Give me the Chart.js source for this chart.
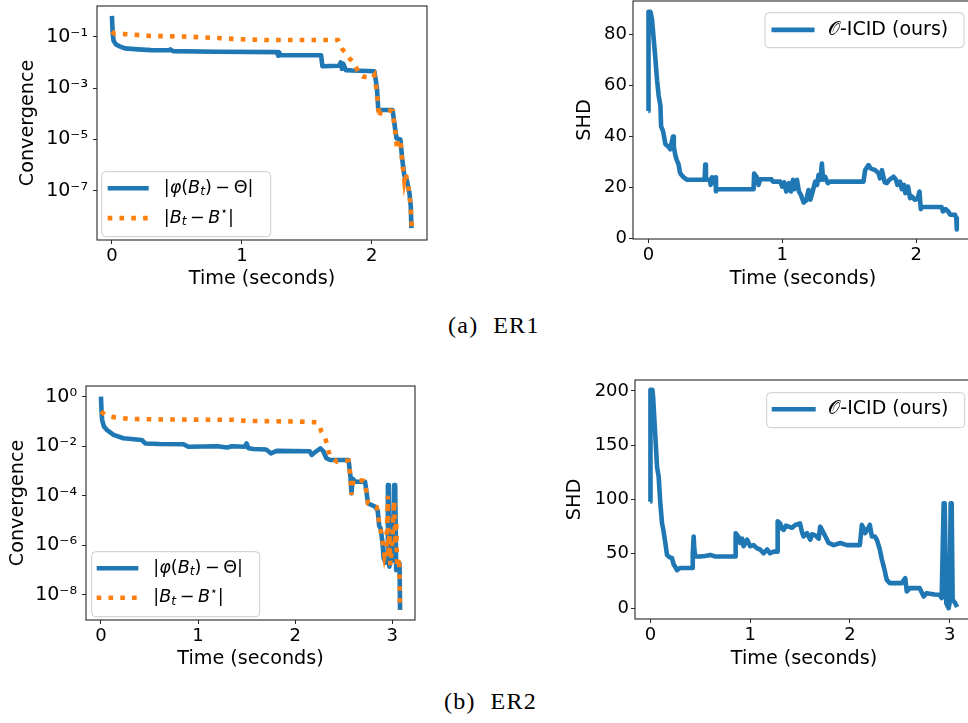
<!DOCTYPE html>
<html><head><meta charset="utf-8">
<script src="https://cdn.jsdelivr.net/npm/chart.js@4.4.1/dist/chart.umd.min.js"></script>
<style>
html,body{margin:0;padding:0;background:#fff;width:968px;height:723px;overflow:hidden;position:relative}
canvas{position:absolute}
.cap{position:absolute;font-family:"Liberation Serif",serif;font-size:24px;line-height:24px;letter-spacing:1.3px;white-space:pre;color:#000}
</style></head><body>
<canvas id="c1"></canvas>
<canvas id="c2"></canvas>
<canvas id="c3"></canvas>
<canvas id="c4"></canvas>
<div class="cap" style="left:448px;top:313px">(a)  ER1</div>
<div class="cap" style="left:444px;top:689px">(b)  ER2</div>
<script>
// ---------- ER1: convergence ----------
const er1PhiTime = [0, 0.005, 0.012, 0.03, 0.06, 0.1, 0.2, 0.3, 0.44, 0.45, 0.47, 0.8, 1.27, 1.28, 1.285, 1.3, 1.61, 1.62, 1.75, 1.76, 1.77, 1.78, 1.8, 1.85, 2.02, 2.04, 2.05, 2.16, 2.18, 2.19, 2.22, 2.235, 2.25, 2.27, 2.29, 2.3, 2.305];
const er1PhiValue = [6.5e-1, 1.6e-1, 7.1e-2, 5e-2, 4.2e-2, 3.5e-2, 3.2e-2, 3e-2, 2.95e-2, 3.2e-2, 2.75e-2, 2.6e-2, 2.5e-2, 1.8e-2, 2.5e-2, 1.9e-2, 1.9e-2, 7.1e-3, 7.4e-3, 1e-2, 5.6e-3, 8.9e-3, 5e-3, 4.8e-3, 4.5e-3, 1e-3, 1.4e-4, 1.4e-4, 2.5e-5, 1.1e-5, 1e-5, 1.6e-6, 4e-7, 2.5e-7, 8e-8, 2.5e-8, 3.5e-9];
const er1DistTime = [0, 0.02, 0.1, 0.3, 0.6, 1.0, 1.2, 1.74, 1.77, 1.8, 1.83, 1.86, 1.88, 1.9, 1.93, 2.0, 2.02, 2.04, 2.055, 2.07, 2.12, 2.16, 2.18, 2.195, 2.2, 2.22, 2.235, 2.25, 2.26, 2.28, 2.29, 2.3, 2.308];
const er1DistValue = [1.6e-1, 1.3e-1, 1.26e-1, 1.07e-1, 1.0e-1, 7.9e-2, 7.4e-2, 7.4e-2, 3.5e-2, 2.2e-2, 1.4e-2, 1.0e-2, 6.3e-3, 3.5e-3, 2.8e-3, 2.4e-3, 3.2e-3, 6.3e-4, 7.1e-5, 1.26e-4, 1.4e-4, 1.26e-4, 2.0e-5, 4.0e-6, 1.0e-5, 8.9e-6, 1.26e-6, 2.5e-7, 5.0e-7, 1.6e-7, 7.1e-8, 2.0e-8, 3.5e-9];
// ---------- ER1: SHD ----------
const er1ShdTime = [0, 0.001, 0.015, 0.027, 0.04, 0.05, 0.065, 0.077, 0.09, 0.095, 0.11, 0.127, 0.15, 0.164, 0.175, 0.184, 0.19, 0.2, 0.21, 0.226, 0.235, 0.245, 0.264, 0.29, 0.42, 0.425, 0.43, 0.46, 0.465, 0.475, 0.487, 0.5, 0.505, 0.512, 0.786, 0.79, 0.81, 0.823, 0.835, 0.92, 0.93, 0.985, 1.0, 1.015, 1.03, 1.05, 1.065, 1.08, 1.09, 1.1, 1.11, 1.125, 1.14, 1.16, 1.18, 1.196, 1.21, 1.22, 1.246, 1.26, 1.271, 1.285, 1.296, 1.305, 1.32, 1.34, 1.36, 1.607, 1.619, 1.644, 1.66, 1.694, 1.72, 1.73, 1.745, 1.765, 1.781, 1.8, 1.831, 1.85, 1.86, 1.88, 1.893, 1.91, 1.92, 1.94, 1.955, 1.968, 1.99, 2.01, 2.025, 2.035, 2.045, 2.19, 2.2, 2.22, 2.24, 2.254, 2.29, 2.3, 2.304];
const er1ShdValue = [50, 89, 89, 86, 78, 72, 62, 56, 52, 44, 42, 37, 36, 35, 38, 40, 36, 33, 31, 29, 26, 25, 24, 23, 23, 29, 23, 23, 21, 24, 22, 24, 18.5, 19.3, 19.3, 25.5, 24, 21, 23.2, 23.2, 22.3, 22.3, 20.3, 22, 18.4, 21.7, 18.4, 23, 19.3, 21, 23, 18.4, 17, 14.1, 15, 19, 15.2, 17, 22.3, 21, 24.9, 23, 29.4, 23, 24.2, 21.7, 22.3, 22.3, 26.8, 28.8, 27.5, 26.8, 25.5, 23.6, 26.8, 22, 21.7, 23, 24.2, 23, 21, 22.3, 19.3, 21, 17.8, 20.3, 15.8, 16.5, 15.2, 15.5, 18.4, 11.5, 12.3, 12.3, 10.6, 11.5, 10.6, 9.3, 9.3, 8, 3.5];
// ---------- ER2: convergence ----------
const er2PhiTime = [0, 0.005, 0.012, 0.03, 0.06, 0.13, 0.23, 0.42, 0.456, 0.6, 0.85, 0.9, 1.2, 1.3, 1.35, 1.48, 1.5, 1.52, 1.57, 1.7, 1.75, 1.81, 2.15, 2.17, 2.2, 2.26, 2.29, 2.32, 2.36, 2.55, 2.57, 2.58, 2.59, 2.62, 2.72, 2.75, 2.82, 2.85, 2.865, 2.88, 2.9, 2.91, 2.93, 2.95, 2.955, 2.965, 2.97, 2.99, 3.01, 3.02, 3.03, 3.04, 3.06, 3.075, 3.08];
const er2PhiValue = [1.0, 3.2e-1, 1.15e-1, 6.3e-2, 4.6e-2, 2.9e-2, 2.1e-2, 1.8e-2, 1.3e-2, 1.23e-2, 1.2e-2, 9.5e-3, 1.0e-2, 8.9e-3, 1.0e-2, 9.5e-3, 1.3e-2, 8.3e-3, 7.8e-3, 7.4e-3, 5.2e-3, 6.5e-3, 6.3e-3, 4.5e-3, 5.6e-3, 8.3e-3, 6.3e-3, 3.3e-3, 2.8e-3, 2.8e-3, 5.6e-4, 1.26e-4, 5.0e-4, 3.7e-4, 3.7e-4, 5.0e-5, 3.7e-5, 2.5e-5, 6.3e-6, 4.9e-6, 1.26e-6, 3.2e-7, 2.0e-7, 2.5e-7, 2.75e-4, 2.75e-4, 1.4e-7, 4.0e-7, 2.5e-7, 2.75e-4, 2.75e-4, 1.0e-7, 1.6e-7, 1.9e-7, 2.5e-9];
const er2DistTime = [0, 0.05, 0.13, 0.3, 0.7, 1.36, 1.5, 2.0, 2.22, 2.25, 2.27, 2.3, 2.32, 2.34, 2.36, 2.43, 2.5, 2.55, 2.57, 2.58, 2.6, 2.7, 2.72, 2.75, 2.84, 2.87, 2.9, 2.92, 2.94, 2.955, 2.96, 2.97, 2.98, 3.0, 3.02, 3.03, 3.04, 3.05, 3.07, 3.08];
const er2DistValue = [2.5e-1, 1.8e-1, 1.5e-1, 1.26e-1, 1.2e-1, 1.17e-1, 1.05e-1, 1.0e-1, 9.3e-2, 7.1e-2, 3.9e-2, 2.5e-2, 1.55e-2, 7.1e-3, 3.8e-3, 2.4e-3, 2.6e-3, 2.6e-3, 5.0e-4, 1.1e-4, 4.5e-4, 4.1e-4, 3.2e-4, 5.0e-5, 3.5e-5, 6.3e-6, 1.6e-6, 4.0e-7, 1.0e-6, 1.0e-4, 3.2e-7, 3.2e-6, 1.6e-7, 1.6e-6, 6.3e-5, 1.0e-6, 1.0e-5, 1.26e-7, 3.2e-7, 2.5e-9];
// ---------- ER2: SHD ----------
const er2ShdTime = [0, 0.001, 0.02, 0.027, 0.05, 0.067, 0.083, 0.1, 0.117, 0.13, 0.15, 0.167, 0.19, 0.217, 0.234, 0.25, 0.267, 0.3, 0.418, 0.425, 0.434, 0.44, 0.45, 0.5, 0.55, 0.6, 0.65, 0.852, 0.855, 0.88, 0.9, 0.92, 0.935, 0.97, 1.0, 1.035, 1.07, 1.1, 1.135, 1.17, 1.2, 1.236, 1.27, 1.276, 1.3, 1.32, 1.336, 1.36, 1.386, 1.42, 1.453, 1.5, 1.52, 1.536, 1.57, 1.603, 1.62, 1.653, 1.687, 1.703, 1.72, 1.737, 1.76, 1.787, 1.837, 1.904, 1.97, 2.1, 2.12, 2.14, 2.154, 2.18, 2.2, 2.22, 2.25, 2.27, 2.3, 2.32, 2.34, 2.37, 2.4, 2.52, 2.555, 2.57, 2.6, 2.7, 2.74, 2.77, 2.85, 2.9, 2.92, 2.94, 2.95, 2.966, 2.99, 3.0, 3.01, 3.02, 3.03, 3.056, 3.075];
const er2ShdValue = [98, 201, 201, 195, 158, 130, 121, 96.5, 78, 72, 60, 49, 47, 46, 40, 38, 35, 37, 37, 50, 66, 55, 47.5, 47.5, 48, 49, 47.5, 47.5, 69, 66, 60, 64, 57, 63, 57, 58, 55, 54, 50.5, 54, 50.5, 52, 52, 80, 78, 73, 72, 76, 75, 74, 76.6, 78, 70, 66, 69, 63, 68, 67, 64, 75, 72, 69, 65, 60, 58, 60, 58, 58, 76.6, 73, 69, 73, 76.6, 66, 66, 63, 54, 45, 38, 26, 23, 23, 27.6, 15.3, 18.4, 18.4, 10.7, 13.8, 12.5, 12.3, 9.2, 96.5, 96.5, 4.6, 0, 5, 96.5, 96.5, 7.7, 4.6, 1];
// ---------- ticks & labels ----------
const er1TimeTicks = [0, 1, 2];
const er2TimeTicks = [0, 1, 2, 3];
const er1ConvTicks = [1e-7, 1e-5, 1e-3, 1e-1];
const er1ConvLabels = ['10⁻⁷', '10⁻⁵', '10⁻³', '10⁻¹'];
const er2ConvTicks = [1e-8, 1e-6, 1e-4, 1e-2, 1];
const er2ConvLabels = ['10⁻⁸', '10⁻⁶', '10⁻⁴', '10⁻²', '10⁰'];
const er1ShdTicks = [0, 20, 40, 60, 80];
const er2ShdTicks = [0, 50, 100, 150, 200];
const phiLabel = '|φ(Bₜ)\u2009−\u2009Θ|';
const distLabel = '|Bₜ\u2009−\u2009B⋆|';
const oursLabel = '𝒪-ICID (ours)';

const BLUE = '#1f77b4', ORANGE = '#ff7f0e';
const FONT = '"DejaVu Sans", sans-serif';
Chart.defaults.font.family = FONT;
Chart.defaults.color = '#000';

function xy(t, v) { return t.map((x, i) => ({ x, y: v[i] })); }

function drawRich(ctx, text, x, y, size, math) {
  let cx = x;
  for (const ch of text) {
    let c = ch, fs = size, dy = 0, style = '';
    if (ch === 'ₜ') { c = 't'; fs = size * 0.7; dy = size * 0.22; style = 'italic '; }
    else if (ch === '⋆') { fs = size * 0.7; dy = -size * 0.36; }
    else if (math && /[A-Za-zφ]/.test(ch)) style = 'italic ';
    ctx.font = style + fs + 'px ' + FONT;
    ctx.fillText(c, cx, y + dy);
    cx += ctx.measureText(c).width;
  }
}

const mplPlugin = {
  id: 'mpl',
  afterDatasetsDraw(chart, args, o) {
    const a = chart.chartArea, ctx = chart.ctx;
    ctx.save();
    ctx.strokeStyle = '#262626'; ctx.lineWidth = 1.1; ctx.setLineDash([]);
    ctx.strokeRect(a.left, a.top, a.right - a.left, a.bottom - a.top);
    if (o && o.items) {
      const bx = a.left + o.dx;
      const by = o.fromBottom ? a.bottom - o.dy - o.h : a.top + o.dy;
      const r = 4;
      ctx.beginPath();
      ctx.moveTo(bx + r, by); ctx.lineTo(bx + o.w - r, by); ctx.arcTo(bx + o.w, by, bx + o.w, by + r, r);
      ctx.lineTo(bx + o.w, by + o.h - r); ctx.arcTo(bx + o.w, by + o.h, bx + o.w - r, by + o.h, r);
      ctx.lineTo(bx + r, by + o.h); ctx.arcTo(bx, by + o.h, bx, by + o.h - r, r);
      ctx.lineTo(bx, by + r); ctx.arcTo(bx, by, bx + r, by, r); ctx.closePath();
      ctx.fillStyle = 'rgba(255,255,255,0.8)'; ctx.fill();
      ctx.strokeStyle = '#cccccc'; ctx.lineWidth = 1; ctx.stroke();
      o.items.forEach((di, i) => {
        const ds = chart.data.datasets[di];
        const cy = by + o.rows[i];
        ctx.strokeStyle = ds.borderColor; ctx.lineWidth = ds.borderWidth;
        ctx.setLineDash(ds.borderDash || []); ctx.lineCap = 'butt';
        ctx.beginPath(); ctx.moveTo(bx + o.lineX, cy); ctx.lineTo(bx + o.lineX + o.lineLen, cy); ctx.stroke();
        ctx.setLineDash([]);
        ctx.fillStyle = '#000'; ctx.textBaseline = 'middle'; ctx.textAlign = 'left';
        drawRich(ctx, ds.label, bx + o.textX, cy, o.size, o.math);
      });
    }
    ctx.restore();
  }
};

const YW = 86, PT = 6, PR = 6, XH = 62;

function panel(id, g, datasets, xs, ys, legend) {
  const el = document.getElementById(id);
  const W = g.r - g.l + YW + PR, H = g.b - g.t + PT + XH;
  el.width = W; el.height = H;
  el.style.left = (g.l - YW) + 'px'; el.style.top = (g.t - PT) + 'px';
  el.style.width = W + 'px'; el.style.height = H + 'px';
  const tickGrid = { display: true, drawOnChartArea: false, drawTicks: true, tickLength: 4, tickColor: '#262626', tickWidth: 1 };
  new Chart(el, {
    type: 'line',
    data: { datasets },
    options: {
      responsive: false, maintainAspectRatio: false, animation: false,
      layout: { padding: { left: 0, top: PT, right: PR, bottom: 0 } },
      plugins: { legend: { display: false }, tooltip: { enabled: false }, mpl: legend },
      elements: { point: { radius: 0 }, line: { tension: 0 } },
      scales: {
        x: {
          type: 'linear', min: xs.min, max: xs.max, bounds: 'data',
          afterBuildTicks: s => { s.ticks = xs.ticks.map(v => ({ value: v })); },
          afterFit: s => { s.height = XH; s.paddingLeft = 0; s.paddingRight = 0; },
          grid: tickGrid, border: { display: false },
          ticks: { font: { size: 18 }, color: '#000', padding: 2, maxRotation: 0, autoSkip: false, callback: v => String(v) },
          title: { display: true, text: 'Time (seconds)', font: { size: 19.2 }, color: '#000', padding: { top: 0, bottom: xs.titlePad } }
        },
        y: {
          type: ys.type, min: ys.min, max: ys.max, bounds: 'data',
          afterBuildTicks: s => { s.ticks = ys.ticks.map(v => ({ value: v })); },
          afterFit: s => { s.width = YW; s.paddingTop = 0; s.paddingBottom = 0; },
          grid: tickGrid, border: { display: false },
          ticks: {
            font: { size: ys.tickSize }, color: '#000', padding: ys.tickPad, autoSkip: false,
            callback: v => {
              const i = ys.ticks.findIndex(t => Math.abs(t - v) <= Math.abs(t) * 1e-6 + 1e-12);
              return i >= 0 ? ys.labels[i] : '';
            }
          },
          title: { display: true, text: ys.title, font: { size: 19.2 }, color: '#000', padding: { top: ys.titlePad, bottom: 0 } }
        }
      }
    },
    plugins: [mplPlugin]
  });
}

function convSets(pt, pv, dt, dv) {
  return [
    { label: phiLabel, data: xy(pt, pv), borderColor: BLUE, borderWidth: 4.6, borderJoinStyle: 'round', borderCapStyle: 'butt', clip: 0, order: 1, pointRadius: 0 },
    { label: distLabel, data: xy(dt, dv), borderColor: ORANGE, borderWidth: 4.6, borderDash: [4.6, 7.2], borderCapStyle: 'butt', borderJoinStyle: 'miter', clip: 0, order: 0, pointRadius: 0 }
  ];
}
function shdSets(t, v) {
  return [{ label: oursLabel, data: xy(t, v), borderColor: BLUE, borderWidth: 4.6, borderJoinStyle: 'round', borderCapStyle: 'butt', clip: 0, pointRadius: 0 }];
}

// (a) ER1 convergence
panel('c1', { l: 97, t: 6, r: 427, b: 240 },
  convSets(er1PhiTime, er1PhiValue, er1DistTime, er1DistValue),
  { min: -0.115, max: 2.425, ticks: er1TimeTicks, titlePad: 11 },
  { type: 'logarithmic', min: 1.2e-9, max: 1.57, ticks: er1ConvTicks, labels: er1ConvLabels, title: 'Convergence', titlePad: 5.8, tickPad: 5, tickSize: 19 },
  { items: [0, 1], dx: 4.7, dy: 3.3, fromBottom: true, w: 169, h: 65, rows: [16.6, 46.4], lineX: 6, lineLen: 41, textX: 62, size: 17.6, math: true });

// (a) ER1 SHD
panel('c2', { l: 633, t: 1, r: 973, b: 239 },
  shdSets(er1ShdTime, er1ShdValue),
  { min: -0.115, max: 2.425, ticks: er1TimeTicks, titlePad: 10.7 },
  { type: 'linear', min: -0.25, max: 93.25, ticks: er1ShdTicks, labels: er1ShdTicks.map(String), title: 'SHD', titlePad: 26, tickPad: 2, tickSize: 18 },
  { items: [0], dx: 132, dy: 11.7, fromBottom: false, w: 199, h: 35, rows: [17.2], lineX: 6.5, lineLen: 43, textX: 63, size: 19, math: false });

// (b) ER2 convergence
panel('c3', { l: 86, t: 386, r: 415, b: 620 },
  convSets(er2PhiTime, er2PhiValue, er2DistTime, er2DistValue),
  { min: -0.154, max: 3.234, ticks: er2TimeTicks, titlePad: 11.7 },
  { type: 'logarithmic', min: 9.8e-10, max: 2.7, ticks: er2ConvTicks, labels: er2ConvLabels, title: 'Convergence', titlePad: 6, tickPad: 5, tickSize: 19 },
  { items: [0, 1], dx: 5.7, dy: 3.3, fromBottom: true, w: 168, h: 65, rows: [16.6, 46], lineX: 5, lineLen: 41.6, textX: 61.6, size: 17.6, math: true });

// (b) ER2 SHD
panel('c4', { l: 635, t: 380, r: 973, b: 619 },
  shdSets(er2ShdTime, er2ShdValue),
  { min: -0.154, max: 3.234, ticks: er2TimeTicks, titlePad: 10.7 },
  { type: 'linear', min: -10, max: 210, ticks: er2ShdTicks, labels: er2ShdTicks.map(String), title: 'SHD', titlePad: 14, tickPad: 2, tickSize: 18 },
  { items: [0], dx: 131.7, dy: 12.7, fromBottom: false, w: 198, h: 35, rows: [16.6], lineX: 5, lineLen: 44, textX: 61.6, size: 19, math: false });
</script>
</body></html>
